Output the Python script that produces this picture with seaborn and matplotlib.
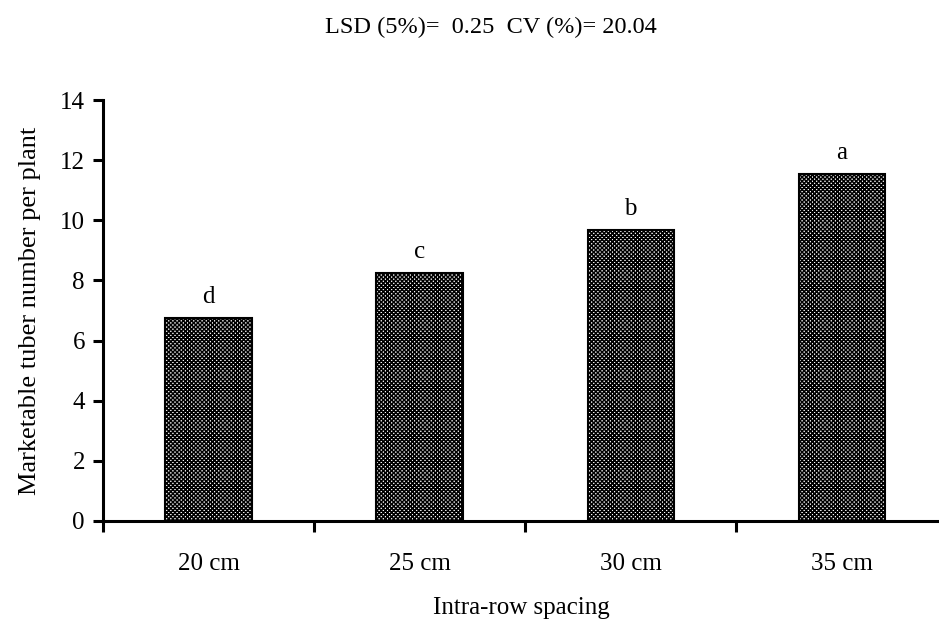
import matplotlib
matplotlib.use('Agg')
import matplotlib.pyplot as plt
import seaborn as sns
import pandas as pd

# data
spacing = ['20 cm', '25 cm', '30 cm', '35 cm']
tuber_number = [6.75, 8.25, 9.68, 11.54]
letters = ['d', 'c', 'b', 'a']
stats_text = 'LSD (5%)=  0.25  CV (%)= 20.04'

df = pd.DataFrame({'spacing': spacing, 'tubers': tuber_number})

sns.set_style('ticks')
plt.rcParams['font.family'] = ['Liberation Serif', 'DejaVu Serif']
plt.rcParams['hatch.linewidth'] = 1.1
plt.rcParams['text.color'] = 'black'
plt.rcParams['axes.labelcolor'] = 'black'
plt.rcParams['xtick.color'] = 'black'
plt.rcParams['ytick.color'] = 'black'
plt.rcParams['axes.edgecolor'] = 'black'

fig = plt.figure(figsize=(9.39, 6.2), dpi=100)
ax = fig.add_axes([0.1097, 0.1597, 0.8903, 0.679])

sns.barplot(data=df, x='spacing', y='tubers', ax=ax, width=0.41,
            color='white', edgecolor='black', linewidth=1.5,
            hatch='xxxxxxxx', saturation=1)

# significance letters above bars
for i, (v, lab) in enumerate(zip(tuber_number, letters)):
    ax.annotate(lab, (i, v), xytext=(0, 7), textcoords='offset points',
                ha='center', va='bottom', fontsize=18)

ax.set_ylim(0, 14)
ax.set_yticks(range(0, 15, 2))
ax.set_xlim(-0.5, 3.46)
ax.set_xticks([-0.5, 0.5, 1.5, 2.5], minor=True)

sns.despine(ax=ax)
for s in ['left', 'bottom']:
    ax.spines[s].set_linewidth(2.2)

ax.tick_params(axis='y', which='major', direction='out', length=7, width=2.2,
               labelsize=18, pad=6)
ax.tick_params(axis='x', which='major', length=0, labelsize=18, pad=23)
ax.tick_params(axis='x', which='minor', direction='out', length=8, width=2.2)

ax.set_xlabel('Intra-row spacing', fontsize=18, labelpad=16)
ax.set_ylabel('Marketable tuber number per plant', fontsize=19, labelpad=14)

fig.text(0.523, 0.955, stats_text, ha='center', va='center', fontsize=17.5)

fig.savefig('out.png', dpi=100)
